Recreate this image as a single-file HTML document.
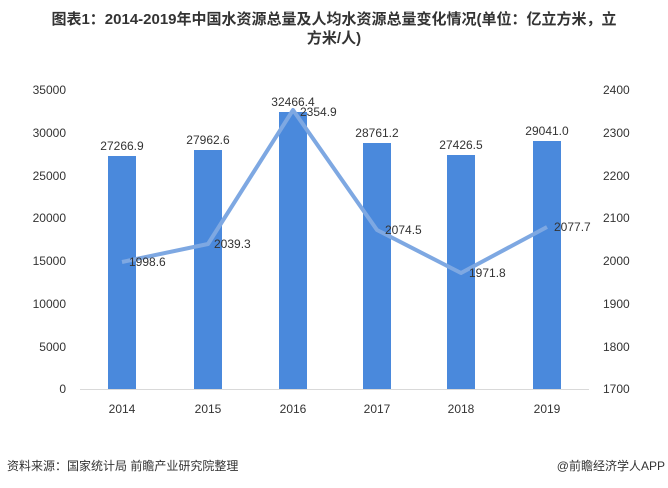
<!DOCTYPE html>
<html><head><meta charset="utf-8"><style>
body{margin:0;width:668px;height:488px;background:#fff;overflow:hidden}
svg{display:block}
text{font-family:"Liberation Sans","Noto Sans CJK SC",sans-serif;fill:#333}
</style></head><body>
<svg width="668" height="488" viewBox="0 0 668 488">
<text x="334" y="24" text-anchor="middle" font-size="15" font-weight="bold" fill="#222">图表1：2014-2019年中国水资源总量及人均水资源总量变化情况(单位：亿立方米，立</text>
<text x="334" y="43" text-anchor="middle" font-size="15" font-weight="bold" fill="#222">方米/人)</text>
<g font-size="12" text-anchor="end">
<text x="66" y="94">35000</text><text x="66" y="137">30000</text><text x="66" y="180">25000</text><text x="66" y="222">20000</text><text x="66" y="265">15000</text><text x="66" y="308">10000</text><text x="66" y="351">5000</text><text x="66" y="393">0</text>
</g>
<g font-size="12" text-anchor="start">
<text x="603" y="94">2400</text><text x="603" y="137">2300</text><text x="603" y="180">2200</text><text x="603" y="222">2100</text><text x="603" y="265">2000</text><text x="603" y="308">1900</text><text x="603" y="351">1800</text><text x="603" y="393">1700</text>
</g>
<line x1="80" y1="389.5" x2="589" y2="389.5" stroke="#d9d9d9"/>
<g fill="#4a89dc">
<rect x="108" y="156" width="28" height="233"/>
<rect x="194" y="150" width="28" height="239"/>
<rect x="279" y="112" width="28" height="277"/>
<rect x="363" y="143" width="28" height="246"/>
<rect x="447" y="155" width="28" height="234"/>
<rect x="533" y="141" width="28" height="248"/>
</g>
<g font-size="12" text-anchor="middle">
<text x="122" y="150">27266.9</text><text x="208" y="144">27962.6</text><text x="293" y="106">32466.4</text><text x="377" y="137">28761.2</text><text x="461" y="149">27426.5</text><text x="547" y="135">29041.0</text>
</g>
<polyline points="122,262 208,244 293,110 377,230 461,273 547,227" fill="none" stroke="#7ea8e2" stroke-width="4" stroke-linejoin="round"/>
<g font-size="12">
<text x="129" y="266">1998.6</text><text x="214" y="248">2039.3</text><text x="300" y="116">2354.9</text><text x="385" y="234">2074.5</text><text x="469" y="277">1971.8</text><text x="554" y="231">2077.7</text>
</g>
<g font-size="12" text-anchor="middle">
<text x="122" y="413">2014</text><text x="208" y="413">2015</text><text x="293" y="413">2016</text><text x="377" y="413">2017</text><text x="461" y="413">2018</text><text x="547" y="413">2019</text>
</g>
<text x="7" y="470" font-size="12" fill="#444">资料来源：国家统计局 前瞻产业研究院整理</text>
<text x="665" y="470" font-size="12" fill="#444" text-anchor="end">@前瞻经济学人APP</text>
</svg>
</body></html>
